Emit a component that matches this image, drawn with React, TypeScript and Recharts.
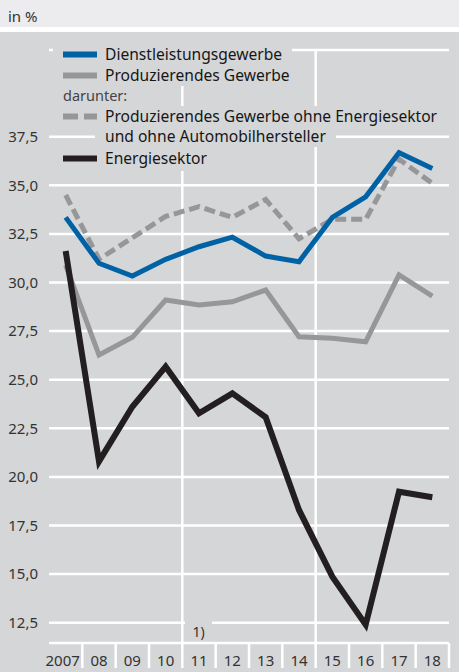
import React from 'react';
import {
  LineChart,
  Line,
  XAxis,
  YAxis,
  CartesianGrid,
  ReferenceLine,
} from 'recharts';

// Jahre (Kategorien)
const years = ['2007', '08', '09', '10', '11', '12', '13', '14', '15', '16', '17', '18'];

// Werte in %
const dienstleistung = [33.35, 30.99, 30.33, 31.19, 31.84, 32.33, 31.36, 31.07, 33.35, 34.41, 36.68, 35.87];
const produzierend = [30.9, 26.27, 27.18, 29.1, 28.84, 29.01, 29.61, 27.21, 27.13, 26.95, 30.39, 29.3];
const ohneEnergie = [34.5, 31.2, 32.3, 33.4, 33.9, 33.35, 34.27, 32.25, 33.25, 33.25, 36.34, 35.1];
const energie = [31.62, 20.8, 23.61, 25.67, 23.27, 24.3, 23.07, 18.3, 14.87, 12.4, 19.24, 18.95];

const yTicks = [12.5, 15, 17.5, 20, 22.5, 25, 27.5, 30, 32.5, 35, 37.5];
const dividers = [4, 8];

const FONT = "'Noto Sans', 'Open Sans', sans-serif";
const BG = '#d5d6d8';
const BLUE = '#0062a5';
const GRAY = '#97979a';
const BLACK = '#231f20';

const data = years.map((label, i) => ({
  x: i + 0.5,
  label,
  dienst: dienstleistung[i],
  prod: produzierend[i],
  ohne: ohneEnergie[i],
  energie: energie[i],
}));

const XTick = (props: any) => {
  const { x, y, index } = props;
  const half = 400 / years.length / 2;
  return (
    <g>
      <line x1={x + half} x2={x + half} y1={y} y2={y + 25} stroke="#fff" strokeWidth={2.5} />
      <text
        x={index === 0 ? x - 3 : x}
        y={y + 23}
        textAnchor="middle"
        fontSize={15}
        fontFamily={FONT}
        fill="#333"
      >
        {years[index]}
      </text>
    </g>
  );
};

const Swatch = ({ color, dashed }: { color: string; dashed?: boolean }) => (
  <svg width={34} height={7} style={{ marginRight: 8, flex: 'none' }}>
    <line
      x1={0}
      x2={34}
      y1={3.5}
      y2={3.5}
      stroke={color}
      strokeWidth={6}
      strokeDasharray={dashed ? '15 6' : undefined}
    />
  </svg>
);

const rowStyle = (top: number, left: number): React.CSSProperties => ({
  position: 'absolute',
  top,
  left,
  height: 21,
  lineHeight: '21px',
  padding: '0 10px',
  background: BG,
  display: 'flex',
  alignItems: 'center',
  whiteSpace: 'nowrap',
  fontSize: 15.6,
  color: '#161616',
});

export default function App() {
  return (
    <div
      style={{
        position: 'absolute',
        left: 0,
        top: 0,
        width: 459,
        height: 672,
        background: BG,
        fontFamily: FONT,
        overflow: 'hidden',
      }}
    >
      <div
        style={{
          position: 'absolute',
          left: 0,
          top: 0,
          width: 459,
          height: 32,
          background: '#ececee',
          borderBottom: '5px solid #fff',
          fontSize: 15,
          lineHeight: '32px',
          paddingLeft: 8,
          boxSizing: 'border-box',
          color: '#333',
        }}
      >
        in %
      </div>

      <div style={{ position: 'absolute', left: 0, top: 0 }}>
        <LineChart width={459} height={672} data={data} margin={{ top: 50, right: 10, left: 0, bottom: 0 }}>
          <CartesianGrid vertical={false} stroke="#fff" strokeWidth={2.5} />
          <XAxis
            dataKey="x"
            type="number"
            domain={[0, 12]}
            ticks={data.map((d) => d.x)}
            interval={0}
            height={29}
            axisLine={false}
            tickLine={false}
            tickSize={0}
            tickMargin={0}
            tick={<XTick />}
          />
          <YAxis
            type="number"
            domain={[11.456, 41.96]}
            allowDataOverflow
            ticks={yTicks}
            interval={0}
            width={49}
            axisLine={false}
            tickLine={false}
            tickSize={0}
            tickMargin={11}
            tickFormatter={(v: number) => v.toFixed(1).replace('.', ',')}
            tick={{ fontSize: 15, fontFamily: FONT, fill: '#333' }}
          />
          {dividers.map((d) => (
            <ReferenceLine key={d} x={d} stroke="#fff" strokeWidth={2.5} />
          ))}
          <Line type="linear" dataKey="prod" stroke={GRAY} strokeWidth={5} dot={false} activeDot={false} isAnimationActive={false} />
          <Line
            type="linear"
            dataKey="ohne"
            stroke={GRAY}
            strokeWidth={5}
            strokeDasharray="11 5"
            dot={false}
            activeDot={false}
            isAnimationActive={false}
          />
          <Line type="linear" dataKey="dienst" stroke={BLUE} strokeWidth={5} dot={false} activeDot={false} isAnimationActive={false} />
          <Line type="linear" dataKey="energie" stroke={BLACK} strokeWidth={6} dot={false} activeDot={false} isAnimationActive={false} />
        </LineChart>
      </div>

      {/* Legende */}
      <div style={rowStyle(44, 53)}>
        <Swatch color={BLUE} />
        Dienstleistungsgewerbe
      </div>
      <div style={rowStyle(64.5, 53)}>
        <Swatch color={GRAY} />
        Produzierendes Gewerbe
      </div>
      <div style={{ ...rowStyle(85, 53), color: '#444', fontSize: 14.5 }}>darunter:</div>
      <div style={rowStyle(105.5, 53)}>
        <Swatch color={GRAY} dashed />
        Produzierendes Gewerbe ohne Energiesektor
      </div>
      <div style={rowStyle(126, 95)}>und ohne Automobilhersteller</div>
      <div style={{ ...rowStyle(146.5, 53), height: 24 }}>
        <Swatch color={BLACK} />
        Energiesektor
      </div>

      <div
        style={{
          position: 'absolute',
          left: 185,
          top: 619,
          width: 27,
          height: 22,
          background: BG,
          fontSize: 14,
          lineHeight: '26px',
          textAlign: 'center',
          color: '#333',
        }}
      >
        1)
      </div>
    </div>
  );
}
